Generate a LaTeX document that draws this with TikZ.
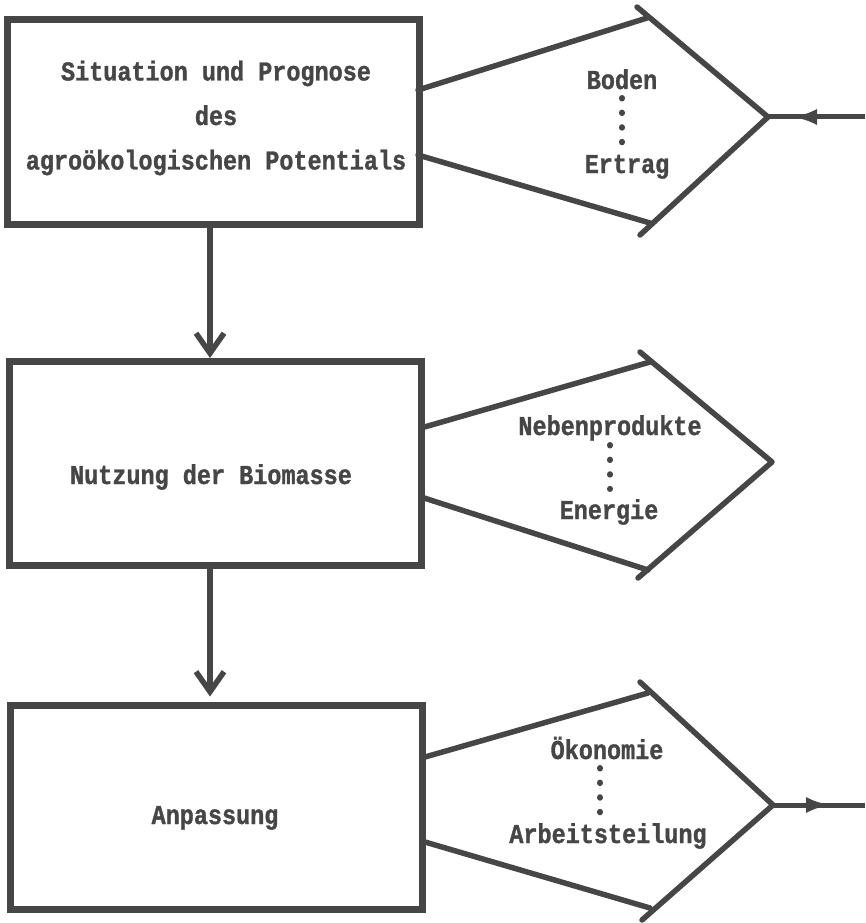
\documentclass[tikz,border=0pt]{standalone}
\usepackage{fontspec}
\setmonofont[FakeStretch=0.86,BoldFeatures={FakeBold=1.2}]{Liberation Mono}
\usetikzlibrary{arrows.meta}
\definecolor{ink}{HTML}{464646}

\begin{document}
\begin{tikzpicture}[x=1pt,y=-1pt]
					\tikzstyle{block}=[draw=ink,line width=7pt,minimum width=412pt,minimum height=204pt,inner sep=0pt]
					\tikzstyle{word}=[text=ink,font=\ttfamily\bfseries\fontsize{27.3}{44.5}\selectfont,anchor=base]
					\tikzstyle{edge}=[draw=ink,line width=5.5pt,line cap=round,line join=round]
					\tikzstyle{dots}=[draw=ink,line width=6pt,line cap=round,dash pattern=on 0.5pt off 14.1pt]
					\tikzstyle{flow}=[draw=ink,line width=5pt]
					\useasboundingbox (0,0) rectangle (865,923);
					% the three boxes
					\node[block](b1) at (213,122) {};
					\node[block](b2) at (215,463.5) {};
					\node[block](b3) at (216.5,807) {};
					\node[word,anchor=center,align=center](t1) at (216,118) {Situation und Prognose\\des\\agroökologischen Potentials};
					\node[word](t2) at (211,484) {Nutzung der Biomasse};
					\node[word](t3) at (215,824) {Anpassung};
					\draw[edge,-{Straight Barb[length=20pt,width=28pt]}] ([xshift=-3pt]b1.south) to ([xshift=-5pt]b2.north);
					\draw[edge,-{Straight Barb[length=20pt,width=28pt]},shorten >=5pt] ([xshift=-5pt]b2.south) to ([xshift=-6.5pt]b3.north);
					% first pointer
					\coordinate (u1s) at (418,90);
					\coordinate (u1e) at (647,18);
					\coordinate (d1s) at (637,7);
					\coordinate (tip1) at (768,117);
					\coordinate (d1e) at (640,235);
					\coordinate (l1s) at (418,155);
					\coordinate (l1e) at (650,223);
					\draw[edge] (u1s) to (u1e);
					\draw[edge] (d1s) to (tip1) to (d1e);
					\draw[edge] (l1s) to (l1e);
					\node[word](w1) at (622,89) {Boden};
					\node[word](w2) at (627,173) {Ertrag};
					\draw[dots] (622,98) to (622,143);
					\coordinate (in1) at (865,117);
					\coordinate (m1) at (792,117);
					\draw[flow] (in1) to (tip1);
					\draw[flow,-{Latex[length=25pt,width=16pt]}] (in1) to (m1);
					% second pointer
					\coordinate (u2s) at (421,428);
					\coordinate (u2e) at (650,362);
					\coordinate (d2s) at (640,352);
					\coordinate (tip2) at (772,462);
					\coordinate (d2e) at (638,578);
					\coordinate (l2s) at (421,497);
					\coordinate (l2e) at (648,570);
					\draw[edge] (u2s) to (u2e);
					\draw[edge] (d2s) to (tip2) to (d2e);
					\draw[edge] (l2s) to (l2e);
					\node[word](w3) at (610,435) {Nebenprodukte};
					\node[word](w4) at (609,519) {Energie};
					\draw[dots] (610,445) to (610,489);
					% third pointer
					\coordinate (u3s) at (425,757);
					\coordinate (u3e) at (648,693);
					\coordinate (d3s) at (640,682);
					\coordinate (tip3) at (773,805);
					\coordinate (d3e) at (642,920);
					\coordinate (l3s) at (425,842);
					\coordinate (l3e) at (650,908);
					\draw[edge] (u3s) to (u3e);
					\draw[edge] (d3s) to (tip3) to (d3e);
					\draw[edge] (l3s) to (l3e);
					\node[word](w5) at (607,759) {Ökonomie};
					\node[word](w6) at (608,843) {Arbeitsteilung};
					\draw[dots] (600,768) to (600,813);
					\coordinate (m3) at (831,805);
					\coordinate (out3) at (865,805);
					\draw[flow] (tip3) to (out3);
					\draw[flow,-{Latex[length=25pt,width=16pt]}] (tip3) to (m3);
				\end{tikzpicture}
\end{document}
